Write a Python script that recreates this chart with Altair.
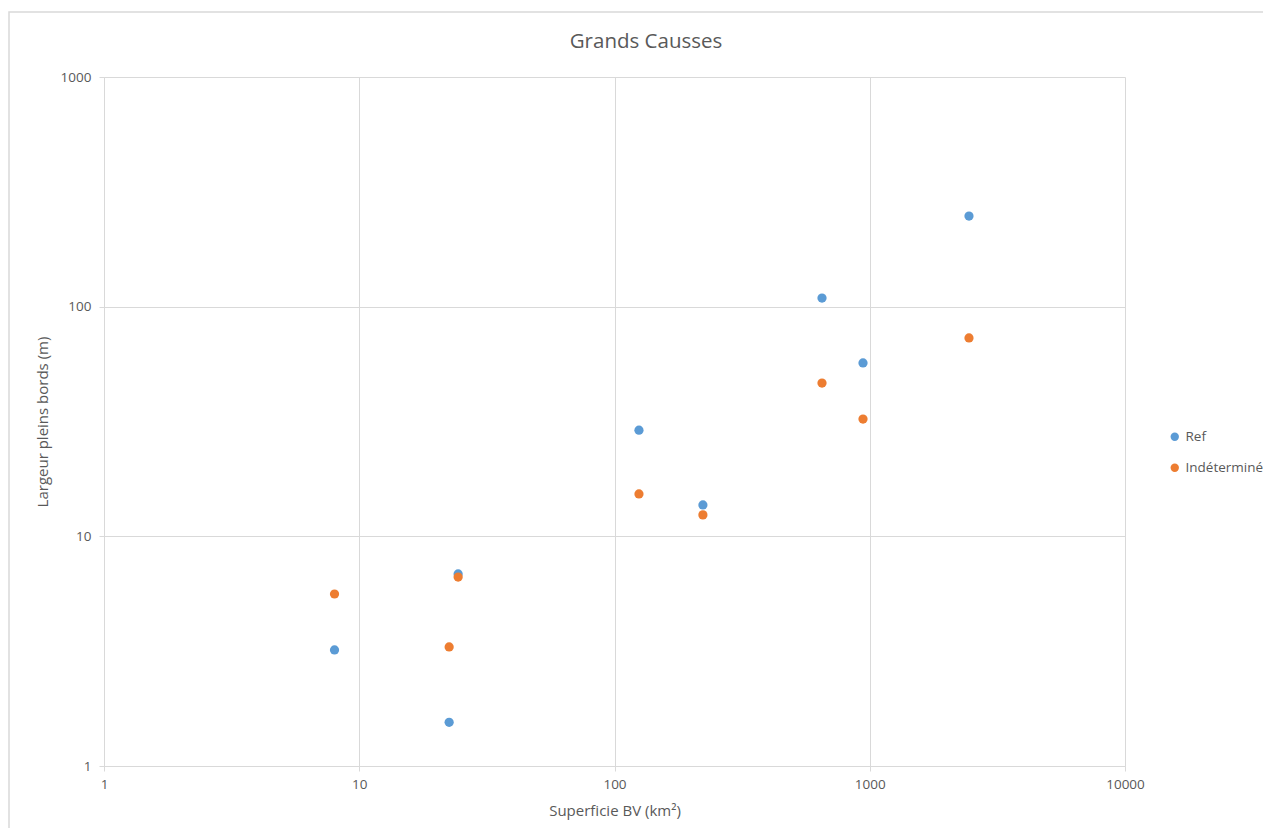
import altair as alt
import pandas as pd

superficie = [8, 22.5, 24.4, 124.7, 222, 650, 941, 2448]
ref = [3.2, 1.55, 6.86, 29.0, 13.7, 109, 56.9, 248]
indetermine = [5.61, 3.30, 6.65, 15.3, 12.4, 46.5, 32.4, 73.1]
series = ["Ref", "Indéterminé"]
colors = ["#5B9BD5", "#ED7D31"]
ticks = [1, 10, 100, 1000, 10000]
title_text = ["Grands Causses"]

rows = []
for s, vals in zip(series, [ref, indetermine]):
    for x, y in zip(superficie, vals):
        rows.append({"Superficie": x, "Largeur": y, "Série": s})
df = pd.DataFrame(rows)

font = "Open Sans"
gray = "#595959"

points = alt.Chart(df).mark_circle(size=85, opacity=1).encode(
    x=alt.X("Superficie:Q",
            scale=alt.Scale(type="log", domain=[1, 10000]),
            axis=alt.Axis(values=ticks, format="d", title="Superficie BV (km²)",
                          titleFontWeight="normal", titleFontSize=15, titleColor=gray,
                          titleFont=font, titlePadding=13,
                          labelFont=font, labelFontSize=13.5, labelColor=gray,
                          labelPadding=6, labelFlush=False,
                          gridColor="#d9d9d9", domainColor="#d9d9d9",
                          tickColor="#d9d9d9", tickSize=5)),
    y=alt.Y("Largeur:Q",
            scale=alt.Scale(type="log", domain=[1, 1000]),
            axis=alt.Axis(values=ticks[:4], format="d", title="Largeur pleins bords (m)",
                          titleFontWeight="normal", titleFontSize=15, titleColor=gray,
                          titleFont=font, titlePadding=10,
                          labelFont=font, labelFontSize=13.5, labelColor=gray,
                          labelPadding=8, labelFlush=False,
                          gridColor="#d9d9d9", domainColor="#d9d9d9",
                          tickColor="#d9d9d9", tickSize=5)),
    color=alt.Color("Série:N",
                    scale=alt.Scale(domain=series, range=colors),
                    sort=series,
                    legend=alt.Legend(title=None, orient="none", legendX=1064, legendY=353,
                                      labelFont=font, labelFontSize=13.5, labelColor=gray,
                                      symbolSize=70, symbolType="circle", rowPadding=16)),
    order=alt.Order("Série:N", sort="descending"),
)

border = alt.Chart(pd.DataFrame({"a": [0]})).mark_rect(
    fill=None, stroke="#d9d9d9", strokeWidth=1.5
).encode(
    x=alt.value(-95), x2=alt.value(1166), y=alt.value(-65), y2=alt.value(800)
)

title = alt.Chart(pd.DataFrame({"t": title_text})).mark_text(
    font=font, fontSize=20.5, color=gray, align="center", baseline="middle"
).encode(
    text="t:N", x=alt.value(542), y=alt.value(-35)
)

chart = alt.layer(border, points, title).properties(
    width=1021, height=689,
    autosize=alt.AutoSizeParams(type="none"),
    padding={"left": 96, "top": 69, "right": 138, "bottom": 62},
).configure_view(stroke=None)

chart.save("out.html", embed_options={"renderer": "svg", "actions": False})
